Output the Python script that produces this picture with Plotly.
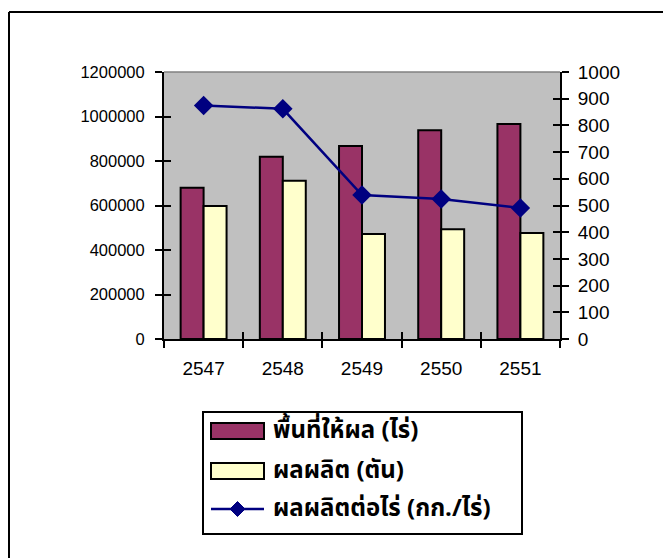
import plotly.graph_objects as go

years = ["2547", "2548", "2549", "2550", "2551"]
area_rai = [680000, 819000, 867000, 938000, 966000]
production_ton = [598000, 711000, 472000, 493000, 476000]
yield_kg_per_rai = [875, 862, 539, 524, 491]

name_area = "พื้นที่ให้ผล (ไร่)"
name_prod = "ผลผลิต (ตัน)"
name_yield = "ผลผลิตต่อไร่ (กก./ไร่)"

MAROON = "#993366"
CREAM = "#FFFFCC"
NAVY = "#000080"

OFF = 8  # page body offset
W, H = 671 - OFF, 558 - OFF
L, T = 164 - OFF, 72 - OFF
pw, ph = 396, 267
R = W - L - pw
B = H - T - ph

def px_x(x):
    return (x - OFF - L) / pw

def px_y(y):
    return (T + ph - (y - OFF)) / ph

fig = go.Figure()
fig.add_trace(go.Bar(x=years, y=area_rai, name=name_area,
                     marker=dict(color=MAROON, line=dict(color="black", width=2))))
fig.add_trace(go.Bar(x=years, y=production_ton, name=name_prod,
                     marker=dict(color=CREAM, line=dict(color="black", width=2))))
fig.add_trace(go.Scatter(x=years, y=yield_kg_per_rai, name=name_yield, yaxis="y2",
                         mode="lines+markers",
                         line=dict(color=NAVY, width=2.5),
                         marker=dict(symbol="diamond", size=15, color=NAVY)))

# invisible helpers so that the "cross" tick overlays are drawn
fig.add_trace(go.Scatter(x=[0], y=[0], xaxis="x3", yaxis="y", mode="markers",
                         marker=dict(opacity=0), showlegend=False, hoverinfo="skip"))
fig.add_trace(go.Scatter(x=[years[0]], y=[0], xaxis="x", yaxis="y3", mode="markers",
                         marker=dict(opacity=0), showlegend=False, hoverinfo="skip"))
fig.add_trace(go.Scatter(x=[years[0]], y=[0], xaxis="x", yaxis="y4", mode="markers",
                         marker=dict(opacity=0), showlegend=False, hoverinfo="skip"))

tickfont = dict(family="Liberation Sans, Arial, sans-serif", size=19, color="black")
lefttickfont = dict(family="Liberation Sans, Arial, sans-serif", size=16.5, color="black")
thai_font = dict(family="Tahoma, Noto Sans Thai, Loma, sans-serif", size=24,
                 color="black", weight="bold")

# custom legend (wide Excel-style keys)
box = dict(x0=203, x1=522, y0=412, y1=534)
rows_y = [431, 471, 509]
key_x0, key_x1 = 211, 264
text_x = 271

shapes = [
    # outer chart border (top and left edges visible in the frame)
    dict(type="line", xref="paper", yref="paper",
         x0=px_x(9), x1=px_x(700), y0=px_y(12), y1=px_y(12),
         line=dict(color="black", width=2), layer="below"),
    dict(type="line", xref="paper", yref="paper",
         x0=px_x(9), x1=px_x(9), y0=px_y(12), y1=px_y(600),
         line=dict(color="black", width=2), layer="below"),
    # plot area top border
    dict(type="line", xref="paper", yref="paper", x0=0, x1=1, y0=1, y1=1,
         line=dict(color="#808080", width=1.5)),
    # legend box
    dict(type="rect", xref="paper", yref="paper",
         x0=px_x(box["x0"]), x1=px_x(box["x1"]), y0=px_y(box["y1"]), y1=px_y(box["y0"]),
         line=dict(color="black", width=2), fillcolor="white"),
    dict(type="rect", xref="paper", yref="paper",
         x0=px_x(key_x0), x1=px_x(key_x1), y0=px_y(rows_y[0] + 8), y1=px_y(rows_y[0] - 8),
         line=dict(color="black", width=2), fillcolor=MAROON),
    dict(type="rect", xref="paper", yref="paper",
         x0=px_x(key_x0), x1=px_x(key_x1), y0=px_y(rows_y[1] + 8), y1=px_y(rows_y[1] - 8),
         line=dict(color="black", width=2), fillcolor=CREAM),
    dict(type="line", xref="paper", yref="paper",
         x0=px_x(key_x0), x1=px_x(key_x1), y0=px_y(rows_y[2]), y1=px_y(rows_y[2]),
         line=dict(color=NAVY, width=2.5)),
]
cx, cy, d = (key_x0 + key_x1) / 2, rows_y[2], 7.5
diamond_path = "M {} {} L {} {} L {} {} L {} {} Z".format(
    px_x(cx), px_y(cy - d), px_x(cx + d), px_y(cy), px_x(cx), px_y(cy + d),
    px_x(cx - d), px_y(cy))
shapes.append(dict(type="path", xref="paper", yref="paper", path=diamond_path,
                   fillcolor=NAVY, line=dict(color=NAVY, width=1)))

annotations = [
    dict(xref="paper", yref="paper", x=px_x(text_x), y=px_y(yy), text=txt,
         showarrow=False, xanchor="left", yanchor="middle", font=thai_font)
    for txt, yy in zip([name_area, name_prod, name_yield], rows_y)
]

fig.update_layout(
    width=W, height=H,
    margin=dict(l=L, r=R, t=T, b=B, pad=0),
    paper_bgcolor="white",
    plot_bgcolor="#C0C0C0",
    barmode="group", bargap=0.42, bargroupgap=0,
    showlegend=False,
    xaxis=dict(type="category", tickson="boundaries", ticks="outside", ticklen=7,
               tickwidth=2, tickcolor="black", showline=True, linecolor="black",
               linewidth=2, showgrid=False, tickfont=tickfont, ticklabelstandoff=11),
    xaxis3=dict(overlaying="x", range=[-0.5, 4.5], tick0=-0.5, dtick=1,
                ticks="inside", ticklen=7, tickwidth=2, tickcolor="black",
                showticklabels=False, showline=False, showgrid=False,
                zeroline=False, anchor="y", side="bottom"),
    yaxis=dict(range=[0, 1200000], dtick=200000, ticks="outside", ticklen=7,
               tickwidth=2, tickcolor="black", showline=True, linecolor="black",
               linewidth=2, showgrid=False, zeroline=False, tickfont=lefttickfont,
               tickformat="d", ticklabelstandoff=7),
    yaxis3=dict(overlaying="y", range=[0, 1200000], dtick=200000, ticks="inside",
                ticklen=7, tickwidth=2, tickcolor="black", showticklabels=False,
                showline=False, showgrid=False, zeroline=False, side="left"),
    yaxis2=dict(overlaying="y", side="right", range=[0, 1000], dtick=100,
                ticks="outside", ticklen=7, tickwidth=2, tickcolor="black",
                showline=True, linecolor="black", linewidth=2, showgrid=False,
                zeroline=False, tickfont=tickfont, ticklabelstandoff=5),
    yaxis4=dict(overlaying="y", side="right", range=[0, 1000], dtick=100,
                ticks="inside", ticklen=7, tickwidth=2, tickcolor="black",
                showticklabels=False, showline=False, showgrid=False, zeroline=False),
    shapes=shapes,
    annotations=annotations,
)

fig.write_html("out.html")
